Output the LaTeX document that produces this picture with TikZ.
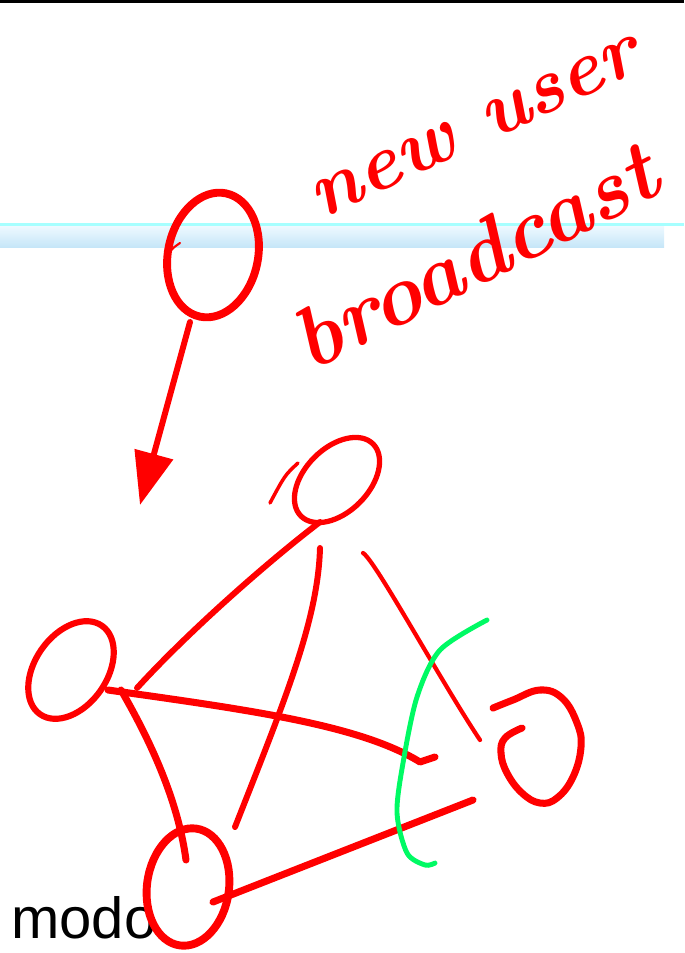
\documentclass[tikz,border=0pt]{standalone}
\usepackage{fontspec}
\newfontfamily\slidefont{Liberation Sans}
\usetikzlibrary{calc, arrows.meta, shapes.geometric}
\definecolor{pen}{RGB}{255,0,0}
\definecolor{marker}{RGB}{0,250,100}
\definecolor{bandtop}{RGB}{238,249,255}
\definecolor{bandbot}{RGB}{198,230,248}
\definecolor{rule}{RGB}{166,255,255}

\begin{document}
\begin{tikzpicture}[x=0.02cm,y=-0.02cm,
    ink/.style={draw=pen,line width=#1,line cap=round,line join=round},
    blob/.style={ellipse,draw=pen,inner sep=0pt},
    hand/.style={text=pen,inner sep=0pt,font=\fontsize{#1}{#1}\selectfont\bfseries\itshape}]
      \useasboundingbox (0,0) rectangle (684,953);
      \draw[line width=1.7pt] (0,1.5) -- (684,1.5);
      \shade[top color=bandtop,bottom color=bandbot] (0,226) rectangle (664,247);
      \draw[rule,line width=1.7pt] (0,224.5) -- (684,224.5);
      \node[anchor=base west,inner sep=0pt,font=\slidefont\fontsize{33}{33}\selectfont] (modo) at (11,938) {modo};
      \node[hand=45,rotate=25] (lab1) at (476,128) {new user};
      \node[hand=49,rotate=27] (lab2) at (474,256) {broadcast};
      \node[blob,line width=4.5pt,minimum width=1.8cm,minimum height=2.52cm,rotate=-12] (src) at (213,255) {};
      \draw[ink=1.2pt] (168,260) .. controls (170,250) .. (180,243);
      \coordinate (tip) at (140,505);
      \draw[ink=3.4pt,-{Triangle[length=30pt,width=22pt]}] ($(src)+(-23,67)$) -- (tip);
      \node[blob,line width=3pt,minimum width=2.04cm,minimum height=1.28cm,rotate=45] (n1) at (337,480) {};
      \draw[ink=2pt] ($(n1)+(-39,-17)$) .. controls (285,475) .. ($(n1)+(-67,23)$);
      \node[blob,line width=3.5pt,minimum width=2.16cm,minimum height=1.44cm,rotate=55] (n2) at (71,670) {};
      \node[blob,line width=4.5pt,minimum width=1.64cm,minimum height=2.36cm,rotate=-8] (n3) at (188,887) {};
      \node[minimum width=1.7cm,minimum height=2.2cm] (n4) at (540,750) {};
      \draw[ink=4pt,shift={(n4.center)}] plot[smooth,tension=0.7] coordinates {(-47,-42) (-27,-50) (0,-60) (22,-52) (37,-27) (41,-3) (33,27) (17,48) (0,53) (-18,43) (-33,23) (-39,3) (-35,-12) (-18,-22)};
      \draw[ink=3.4pt] ($(n1)+(-17,42)$) .. controls (270,560) and (190,630) .. ($(n2)+(66,18)$);
      \draw[ink=3.4pt] ($(n1)+(-17,68)$) .. controls (318,620) and (285,700) .. ($(n3)+(47,-60)$);
      \draw[ink=2.4pt] ($(n1)+(26,73)$) .. controls (375,560) and (440,680) .. ($(n4)+(-60,-10)$);
      \draw[ink=4pt] ($(n2)+(37,20)$) .. controls (250,710) and (360,725) .. (420,762) -- ($(n4)+(-105,7)$);
      \draw[ink=4pt] ($(n2)+(50,20)$) .. controls (150,740) and (178,800) .. ($(n3)+(-2,-27)$);
      \draw[ink=4pt] ($(n3)+(25,15)$) -- ($(n4)+(-67,50)$);
      \draw[marker,line width=2.8pt,line cap=round] plot[smooth] coordinates {(487,620) (440,650) (417,697) (403,763) (397,813) (407,853) (425,865) (435,863)};
    \end{tikzpicture}
\end{document}
